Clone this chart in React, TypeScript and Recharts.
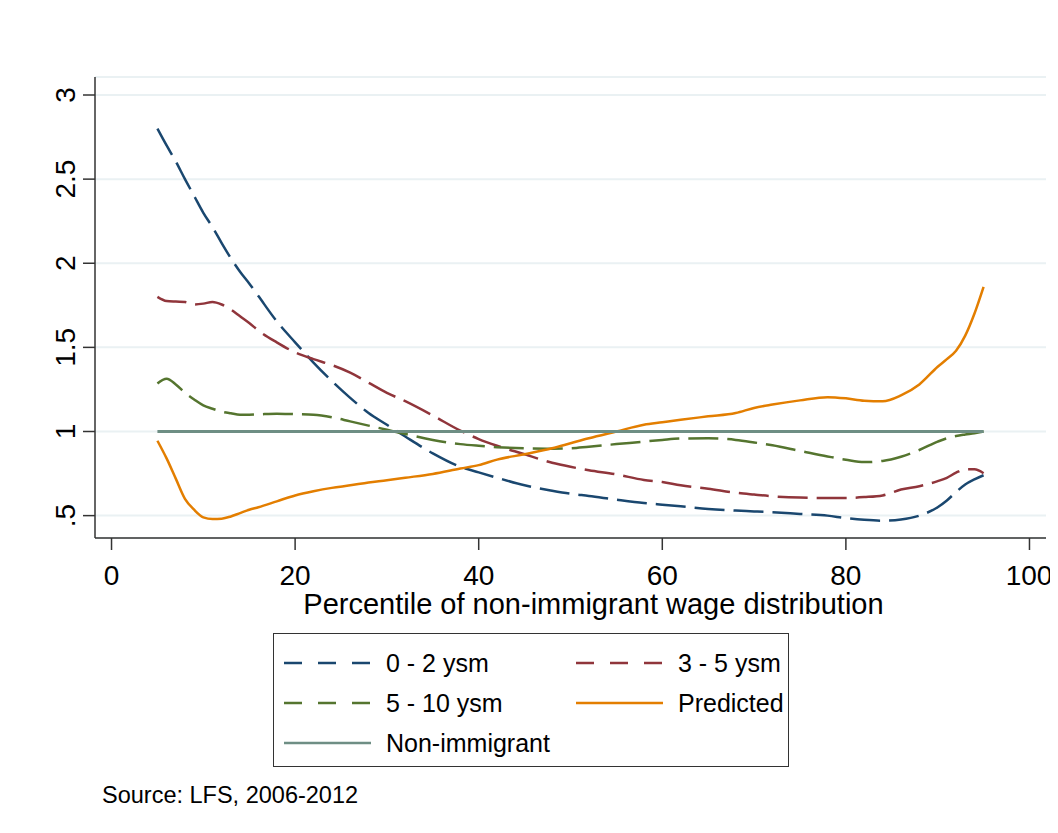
import React from 'react';
import { LineChart, Line, XAxis, YAxis, CartesianGrid, Legend, Label } from 'recharts';

// percentile positions shared by every series
const percentiles = [5, 6, 7, 8, 9, 10, 11, 12, 13, 14, 15, 16, 18, 20, 22, 24, 26, 28, 30, 32, 35, 38, 40, 42, 45, 48, 50, 52, 55, 58, 60, 62, 65, 68, 70, 72, 75, 78, 80, 82, 84, 86, 88, 90, 91, 92, 93, 94, 95];

const ysm0to2 = [2.8, 2.7, 2.605, 2.5, 2.4, 2.3, 2.215, 2.12, 2.03, 1.95, 1.88, 1.805, 1.655, 1.53, 1.41, 1.3, 1.2, 1.11, 1.04, 0.97, 0.87, 0.79, 0.757, 0.725, 0.68, 0.648, 0.63, 0.617, 0.595, 0.575, 0.565, 0.555, 0.54, 0.53, 0.525, 0.52, 0.51, 0.5, 0.485, 0.475, 0.47, 0.477, 0.5, 0.55, 0.59, 0.64, 0.685, 0.715, 0.74];
const ysm3to5 = [1.8, 1.775, 1.772, 1.77, 1.755, 1.76, 1.77, 1.755, 1.725, 1.685, 1.645, 1.6, 1.53, 1.47, 1.43, 1.395, 1.35, 1.29, 1.23, 1.18, 1.095, 1.005, 0.955, 0.915, 0.865, 0.814, 0.79, 0.77, 0.745, 0.712, 0.7, 0.68, 0.66, 0.636, 0.625, 0.615, 0.607, 0.605, 0.605, 0.61, 0.62, 0.655, 0.675, 0.705, 0.725, 0.755, 0.775, 0.775, 0.752];
const ysm5to10 = [1.285, 1.313, 1.28, 1.23, 1.19, 1.155, 1.135, 1.118, 1.108, 1.1, 1.1, 1.102, 1.106, 1.103, 1.1, 1.085, 1.06, 1.035, 1.01, 0.985, 0.95, 0.925, 0.915, 0.907, 0.9, 0.898, 0.9, 0.91, 0.925, 0.94, 0.95, 0.958, 0.96, 0.95, 0.935, 0.918, 0.885, 0.852, 0.832, 0.818, 0.825, 0.85, 0.89, 0.94, 0.96, 0.973, 0.982, 0.99, 1.0];
const predicted = [0.945, 0.84, 0.72, 0.6, 0.535, 0.49, 0.48, 0.482, 0.495, 0.515, 0.535, 0.55, 0.585, 0.62, 0.645, 0.665, 0.68, 0.697, 0.71, 0.725, 0.748, 0.78, 0.8, 0.833, 0.865, 0.9, 0.93, 0.96, 1.0, 1.04, 1.055, 1.07, 1.09, 1.11, 1.14, 1.16, 1.185, 1.204, 1.197, 1.183, 1.18, 1.215, 1.28, 1.385, 1.43, 1.48, 1.57, 1.7, 1.86];
const nonImmigrant = percentiles.map(() => 1);

const xTicks = [0, 20, 40, 60, 80, 100];
const yTicks = [0.5, 1, 1.5, 2, 2.5, 3];
const yTickLabels = ['.5', '1', '1.5', '2', '2.5', '3'];

const series = [
  { key: 'a', name: '0 - 2 ysm', values: ysm0to2, color: '#1a476f', dashed: true },
  { key: 'b', name: '3 - 5 ysm', values: ysm3to5, color: '#90353b', dashed: true },
  { key: 'c', name: '5 - 10 ysm', values: ysm5to10, color: '#55752f', dashed: true },
  { key: 'd', name: 'Predicted', values: predicted, color: '#e37e00', dashed: false },
  { key: 'e', name: 'Non-immigrant', values: nonImmigrant, color: '#6e8e84', dashed: false },
];

const data = percentiles.map((p, i) => {
  const row: Record<string, number> = { p };
  series.forEach((s) => {
    row[s.key] = s.values[i];
  });
  return row;
});

const FONT = '"Liberation Sans", Arial, Helvetica, sans-serif';

const YTick = (props: any) => {
  const { x, y, payload } = props;
  const idx = yTicks.indexOf(payload.value);
  return (
    <text x={x} y={y} transform={`rotate(-90, ${x}, ${y})`} textAnchor="middle" fontSize={28} fill="#000" fontFamily={FONT}>
      {idx >= 0 ? yTickLabels[idx] : payload.value}
    </text>
  );
};

const LegendBox = () => (
  <div
    style={{
      width: 516,
      height: 134,
      boxSizing: 'border-box',
      border: '1.5px solid #333',
      background: '#fff',
      display: 'grid',
      gridTemplateColumns: '292px 220px',
      gridAutoRows: '40px',
      paddingTop: 9,
      paddingLeft: 10,
      fontFamily: FONT,
      fontSize: 25,
      color: '#000',
    }}
  >
    {series.map((s) => (
      <div key={s.key} style={{ display: 'flex', alignItems: 'center' }}>
        <svg width={87} height={6} style={{ marginRight: 15 }}>
          <line x1={0} y1={3} x2={87} y2={3} stroke={s.color} strokeWidth={2.5} strokeDasharray={s.dashed ? '18 16' : undefined} />
        </svg>
        <span>{s.name}</span>
      </div>
    ))}
  </div>
);

const App: React.FC = () => {
  return (
    <div style={{ position: 'relative', width: 1042, height: 810, fontFamily: FONT }}>
      <style>{'body { overflow: hidden; } .recharts-surface { overflow: visible; } .recharts-wrapper { overflow: visible; }'}</style>
      <LineChart width={1042} height={810} data={data} margin={{ top: 69, right: 4, left: 27, bottom: 190 }}>
        <CartesianGrid horizontal vertical={false} stroke="#eaf1f3" strokeWidth={2} />
        <XAxis
          dataKey="p"
          type="number"
          domain={[-1.8, 101.8]}
          ticks={xTicks}
          allowDataOverflow
          tickSize={12}
          tickMargin={15}
          height={90}
          stroke="#333"
          strokeWidth={1.5}
          tick={{ fontSize: 28, fill: '#000', fontFamily: FONT }}
        >
          <Label
            content={(props: any) => {
              const vb = props.viewBox;
              return (
                <text x={vb.x + vb.width / 2 + 23} y={vb.y + 76} textAnchor="middle" fontSize={29} fill="#000" fontFamily={FONT}>
                  Percentile of non-immigrant wage distribution
                </text>
              );
            }}
          />
        </XAxis>
        <YAxis
          type="number"
          domain={[0.367, 3.107]}
          ticks={yTicks}
          allowDataOverflow
          width={60}
          tickSize={12}
          tickMargin={8}
          stroke="#333"
          strokeWidth={1.5}
          tick={<YTick />}
        />
        <Legend
          layout="horizontal"
          verticalAlign="middle"
          align="center"
          wrapperStyle={{ top: 625, left: 265, width: 516, height: 134 }}
          content={() => <LegendBox />}
        />
        {series.map((s) => (
          <Line
            key={s.key}
            dataKey={s.key}
            name={s.name}
            type="monotone"
            stroke={s.color}
            strokeWidth={s.key === 'e' ? 3 : 2.5}
            strokeDasharray={s.dashed ? '30 9' : undefined}
            dot={false}
            activeDot={false}
            isAnimationActive={false}
          />
        ))}
      </LineChart>
      <div style={{ position: 'absolute', left: 94, top: 775, fontSize: 23.5, lineHeight: '24px', color: '#000' }}>
        Source: LFS, 2006-2012
      </div>
    </div>
  );
};

export default App;
